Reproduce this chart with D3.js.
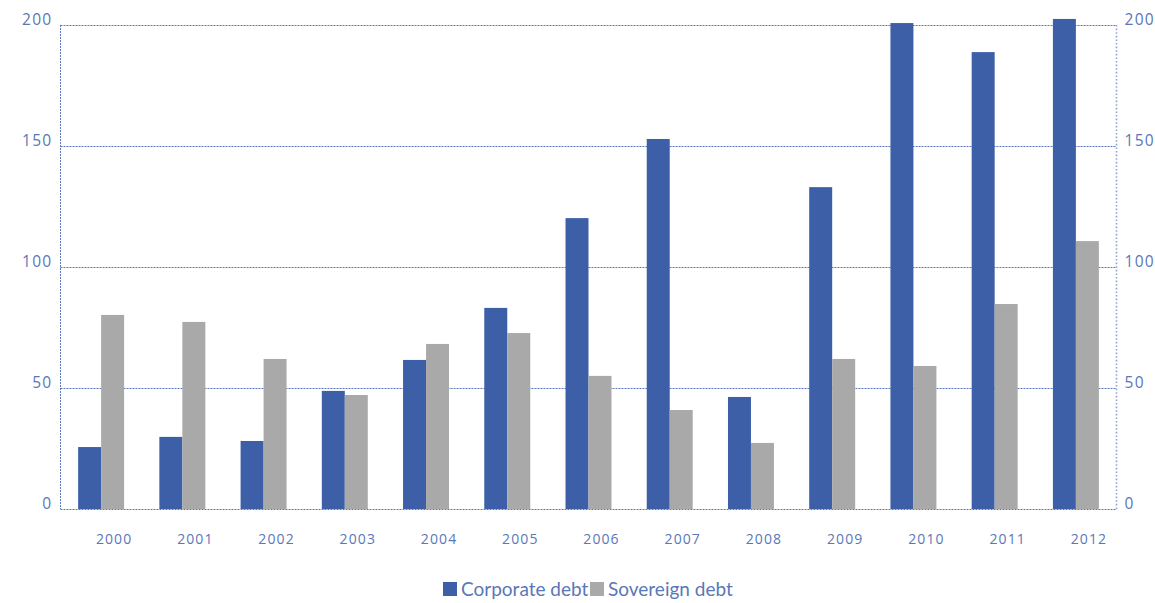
<!DOCTYPE html>
<html><head><meta charset="utf-8">
<script src="https://cdn.jsdelivr.net/npm/d3@7"></script>
<style>body{margin:0;background:#fff;} svg{display:block;}</style>
</head><body>
<svg id="chart" width="1155" height="603"></svg>
<script>
const years = ["2000","2001","2002","2003","2004","2005","2006","2007","2008","2009","2010","2011","2012"];
const corporate = [25.6, 29.8, 28.1, 48.8, 61.6, 83.1, 120.2, 152.9, 46.3, 133.0, 200.8, 188.8, 202.5];
const sovereign = [80.2, 77.3, 62.0, 47.1, 68.2, 72.7, 55.0, 40.9, 27.3, 62.0, 59.1, 84.7, 110.7];
const yTicks = [0, 50, 100, 150, 200];
const seriesNames = ["Corporate debt", "Sovereign debt"];
const colors = ["#3c5fa7", "#a9a9a9"];
const textColor = "#5a77b8";
const tickFont = "'Open Sans', sans-serif";
const legFont = "Lato, 'Open Sans', sans-serif";

const svg = d3.select("#chart");
const m = {l: 60.5, r: 1116.5, t: 25, b: 509};
const x = d3.scaleBand().domain(years).range([m.l, m.r]).paddingInner(0.434).paddingOuter(0.217);
const xs = d3.scaleBand().domain([0,1]).range([0, x.bandwidth()]);
const y = d3.scaleLinear().domain([0, 200]).range([m.b, m.t]);

// gridlines
svg.append("g").selectAll("line").data(yTicks).join("line")
  .attr("x1", m.l).attr("x2", m.r).attr("y1", d => y(d)+0.5).attr("y2", d => y(d)+0.5)
  .attr("stroke", "#5a77c0").attr("stroke-width", 1).attr("stroke-dasharray", "2,1");

// left axis line
svg.append("line").attr("x1", m.l).attr("x2", m.l).attr("y1", m.t).attr("y2", m.b)
  .attr("stroke", "#5a77c0").attr("stroke-dasharray", "2,1");
// right axis line
svg.append("line").attr("x1", m.r).attr("x2", m.r).attr("y1", m.t).attr("y2", m.b)
  .attr("stroke", "#8ea3d0").attr("stroke-width", 1.6).attr("stroke-dasharray", "1.6,2");

// bars
const data = years.map((yr, i) => ({yr, vals: [corporate[i], sovereign[i]]}));
const g = svg.append("g").selectAll("g").data(data).join("g")
  .attr("transform", d => `translate(${x(d.yr)},0)`);
g.selectAll("rect").data(d => d.vals.map((v, k) => ({v, k}))).join("rect")
  .attr("x", d => xs(d.k)).attr("width", xs.bandwidth())
  .attr("y", d => y(d.v)).attr("height", d => y(0) - y(d.v))
  .attr("fill", d => colors[d.k]);

// left axis
const left = svg.append("g").attr("transform", `translate(${m.l - 8},0)`)
  .call(d3.axisLeft(y).tickValues(yTicks).tickSize(0).tickPadding(0));
left.select(".domain").remove();
left.selectAll("text").attr("fill", textColor).style("font-family", tickFont).style("font-size", "15.5px")
  .style("letter-spacing", "1.3px").attr("dy", "-0.05em");

const right = svg.append("g").attr("transform", `translate(${m.r + 8},0)`)
  .call(d3.axisRight(y).tickValues(yTicks).tickSize(0).tickPadding(0));
right.select(".domain").remove();
right.selectAll("text").attr("fill", textColor).style("font-family", tickFont).style("font-size", "15.5px")
  .style("letter-spacing", "1.3px").attr("dy", "-0.05em");

// x axis
const xa = svg.append("g").attr("transform", `translate(13,${m.b})`)
  .call(d3.axisBottom(x).tickSize(0).tickPadding(0));
xa.select(".domain").remove();
xa.selectAll("text").attr("fill", textColor).style("font-family", tickFont).style("font-size", "14px")
  .style("letter-spacing", "1.1px").attr("y", 35).attr("dy", 0);

// legend
const lg = svg.append("g");
const legItems = [{x: 443, tx: 461}, {x: 590, tx: 608}];
seriesNames.forEach((n, i) => {
  lg.append("rect").attr("x", legItems[i].x).attr("y", 582).attr("width", 14).attr("height", 14).attr("fill", colors[i]);
  lg.append("text").attr("x", legItems[i].tx).attr("y", 596).text(n)
    .attr("fill", textColor).style("font-family", legFont).style("font-size", "19px");
});
</script>
</body></html>
